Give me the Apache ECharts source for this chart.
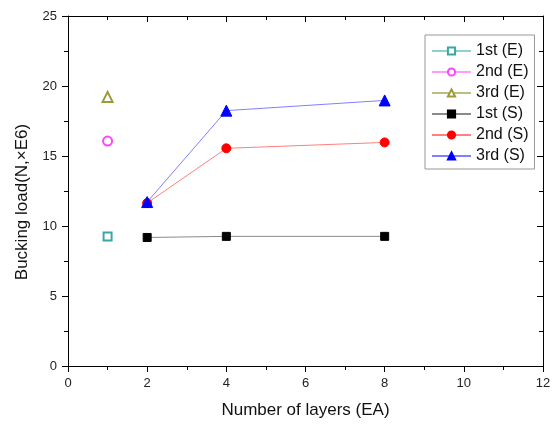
<!DOCTYPE html>
<html><head><meta charset="utf-8">
<script src="https://cdn.jsdelivr.net/npm/echarts@6/dist/echarts.min.js"></script>
<style>html,body{margin:0;padding:0;background:#fff}#c{width:556px;height:424px}</style>
</head><body><div id="c"></div>
<script>
var layersE = [1];
var firstE = [9.25];
var secondE = [16.07];
var thirdE = [19.22];
var layersS = [2, 4, 8];
var firstS = [9.18, 9.26, 9.26];
var secondS = [11.64, 15.55, 15.97];
var thirdS = [11.71, 18.24, 18.97];
var seriesNames = ['1st (E)', '2nd (E)', '3rd (E)', '1st (S)', '2nd (S)', '3rd (S)'];

function pairs(xs, ys){ return xs.map(function(x,i){ return [x, ys[i]]; }); }

var font = 'Liberation Sans, Arial, sans-serif';
var chart = echarts.init(document.getElementById('c'), null, {renderer:'canvas'});

function mk(name, xs, ys, symbol, color, lineColor, size){
  return {
    name: name, type: 'line', data: pairs(xs, ys), symbol: symbol, symbolSize: size,
    itemStyle: {color: color, borderColor: color, borderWidth: 1},
    lineStyle: {color: lineColor, width: 1},
    emphasis: {disabled: true}, animation: false, z: 3
  };
}

var baseAxisLine = {show: true, onZero: false, lineStyle: {color: '#000', width: 1}};

chart.setOption({
  animation: false,
  backgroundColor: '#fff',
  grid: {left: 68, right: 13, top: 16, bottom: 58},
  legend: {
    orient: 'vertical', left: 425, top: 35,
    data: seriesNames,
    backgroundColor: '#fff',
    borderColor: '#999', borderWidth: 1,
    padding: [8, 6, 5, 6],
    itemWidth: 39, itemHeight: 9, itemGap: 5,
    textStyle: {fontFamily: font, fontSize: 16, lineHeight: 16, color: '#111'}
  },
  xAxis: [{
    type: 'value', min: 0, max: 12, interval: 2,
    name: 'Number of layers (EA)', nameLocation: 'middle', nameGap: 36,
    nameTextStyle: {fontFamily: font, fontSize: 17, color: '#111'},
    axisLine: baseAxisLine,
    axisTick: {show: true, inside: false, length: 6, lineStyle: {color: '#000'}},
    minorTick: {show: true, splitNumber: 2, length: 4, lineStyle: {color: '#000'}},
    axisLabel: {fontFamily: font, fontSize: 13, color: '#222', margin: 11},
    splitLine: {show: false}
  }, {
    type: 'value', min: 0, max: 12, interval: 2, position: 'top',
    axisLine: baseAxisLine,
    axisTick: {show: true, inside: true, length: 6, lineStyle: {color: '#000'}},
    minorTick: {show: true, splitNumber: 2, length: 4, lineStyle: {color: '#000'}},
    axisLabel: {show: false}, splitLine: {show: false}
  }],
  yAxis: [{
    type: 'value', min: 0, max: 25, interval: 5,
    name: 'Bucking load(N,\u00d7E6)', nameLocation: 'middle', nameGap: 37, nameRotate: 90,
    nameTextStyle: {fontFamily: font, fontSize: 17, color: '#111', padding: [0, 22, 0, 0]},
    axisLine: baseAxisLine,
    axisTick: {show: true, inside: false, length: 6, lineStyle: {color: '#000'}},
    minorTick: {show: true, splitNumber: 2, length: 4, lineStyle: {color: '#000'}},
    axisLabel: {fontFamily: font, fontSize: 13, color: '#222', margin: 11},
    splitLine: {show: false}
  }, {
    type: 'value', min: 0, max: 25, interval: 5, position: 'right',
    axisLine: baseAxisLine,
    axisTick: {show: true, inside: true, length: 6, lineStyle: {color: '#000'}},
    minorTick: {show: true, splitNumber: 2, length: 4, lineStyle: {color: '#000'}},
    axisLabel: {show: false}, splitLine: {show: false}
  }],
  series: [
    mk(seriesNames[0], layersE, firstE, 'emptyRect', '#3aa6a6', '#8fd0d0', 8),
    mk(seriesNames[1], layersE, secondE, 'emptyCircle', '#ff44ff', '#ff9cff', 9),
    mk(seriesNames[2], layersE, thirdE, 'emptyTriangle', '#9a9a3a', '#bdbd80', 10),
    mk(seriesNames[3], layersS, firstS, 'rect', '#000000', '#8a8a8a', 8),
    mk(seriesNames[4], layersS, secondS, 'circle', '#ff0000', '#ff8080', 9),
    mk(seriesNames[5], layersS, thirdS, 'triangle', '#0000ff', '#8080ff', 11)
  ]
});
</script></body></html>
